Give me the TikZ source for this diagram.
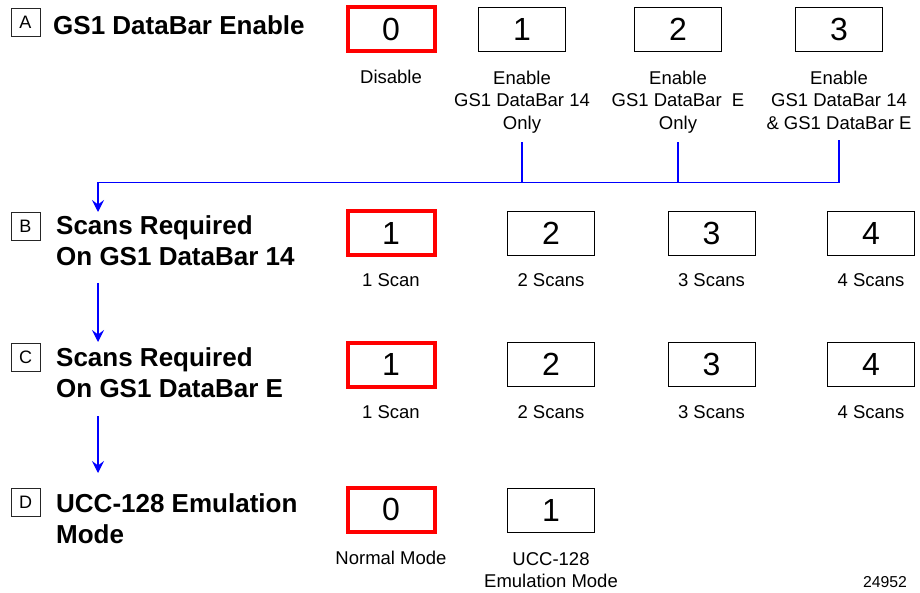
\documentclass[tikz,border=0pt]{standalone}
\usepackage{fontspec}
\setmainfont{Liberation Sans}
\usetikzlibrary{arrows.meta}
\begin{document}
\begin{tikzpicture}[x=1pt,y=-1pt,
  opt/.style={draw=black, line width=0.9pt, minimum width=87pt, minimum height=44pt, inner sep=0pt, font=\fontsize{32}{36}\selectfont},
  sel/.style={opt, draw=red, line width=4pt},
  lab/.style={inner sep=0pt, align=center, font=\fontsize{18.5}{22.5}\selectfont},
  letter/.style={draw=black!85, line width=0.8pt, minimum width=29pt, minimum height=28pt, inner sep=0pt, font=\fontsize{18}{20}\selectfont},
  title/.style={anchor=north west, inner sep=0pt, align=left, font=\bfseries\fontsize{26}{31}\selectfont},
  conn/.style={draw=blue, line width=1.1pt},
  arr/.style={conn, -{Stealth[length=12pt,width=12pt,inset=4.5pt]}}
]
\useasboundingbox (0,0) rectangle (920,593);

% Row A
\node[letter] (kA) at (25.5,22) {A};
\node[title] (tA) at (53,15) {GS1 DataBar Enable};
\node[sel] (oA0) at (391,29.5) {0};
\node[opt] (oA1) at (522,29.5) {1};
\node[opt] (oA2) at (678,29.5) {2};
\node[opt] (oA3) at (839,29.5) {3};
\node[lab, anchor=north] (lA0) at (391,69.5) {Disable};
\node[lab, anchor=north] (lA1) at (522,70.5) {Enable\\GS1 DataBar 14\\Only};
\node[lab, anchor=north] (lA2) at (678,70.5) {Enable\\GS1 DataBar~ E\\Only};
\node[lab, anchor=north] (lA3) at (839,70.5) {Enable\\GS1 DataBar 14\\\& GS1 DataBar E};

% Row B
\node[letter] (kB) at (25.5,226.5) {B};
\node[title] (tB) at (56,215) {Scans Required\\On GS1 DataBar 14};
\node[sel] (oB1) at (391,233.5) {1};
\node[opt] (oB2) at (551,233.5) {2};
\node[opt] (oB3) at (711.5,233.5) {3};
\node[opt] (oB4) at (871,233.5) {4};
\node[lab] (lB1) at (391,280.5) {1 Scan};
\node[lab] (lB2) at (551,280.5) {2 Scans};
\node[lab] (lB3) at (711.5,280.5) {3 Scans};
\node[lab] (lB4) at (871,280.5) {4 Scans};

% Row C
\node[letter] (kC) at (25.5,357.5) {C};
\node[title] (tC) at (56,347) {Scans Required\\On GS1 DataBar E};
\node[sel] (oC1) at (391,364.5) {1};
\node[opt] (oC2) at (551,364.5) {2};
\node[opt] (oC3) at (711.5,364.5) {3};
\node[opt] (oC4) at (871,364.5) {4};
\node[lab] (lC1) at (391,412.5) {1 Scan};
\node[lab] (lC2) at (551,412.5) {2 Scans};
\node[lab] (lC3) at (711.5,412.5) {3 Scans};
\node[lab] (lC4) at (871,412.5) {4 Scans};

% Row D
\node[letter] (kD) at (25.5,502.5) {D};
\node[title] (tD) at (56,493) {UCC-128 Emulation\\Mode};
\node[sel] (oD0) at (391,509.5) {0};
\node[opt] (oD1) at (551,510) {1};
\node[lab] (lD0) at (391,557.5) {Normal Mode};
\node[lab, anchor=north] (lD1) at (551,552) {UCC-128\\Emulation Mode};
\node[inner sep=0pt, font=\fontsize{15.8}{18}\selectfont] (num) at (885,582.5) {24952};

% Connectors
\coordinate (jB) at (98,182.5);
\coordinate (aB) at (98,212);
\coordinate (sC) at (98,283);
\coordinate (aC) at (98,342);
\coordinate (sD) at (98,416);
\coordinate (aD) at (98,473);
\draw[conn, shorten <=9pt] (lA1.south) -- (lA1.south |- jB);
\draw[conn, shorten <=9pt] (lA2.south) -- (lA2.south |- jB);
\draw[conn, shorten <=11pt] (lA3.south) |- (jB);
\draw[arr] (jB) -- (aB);
\draw[arr] (sC) -- (aC);
\draw[arr] (sD) -- (aD);
\end{tikzpicture}
\end{document}
